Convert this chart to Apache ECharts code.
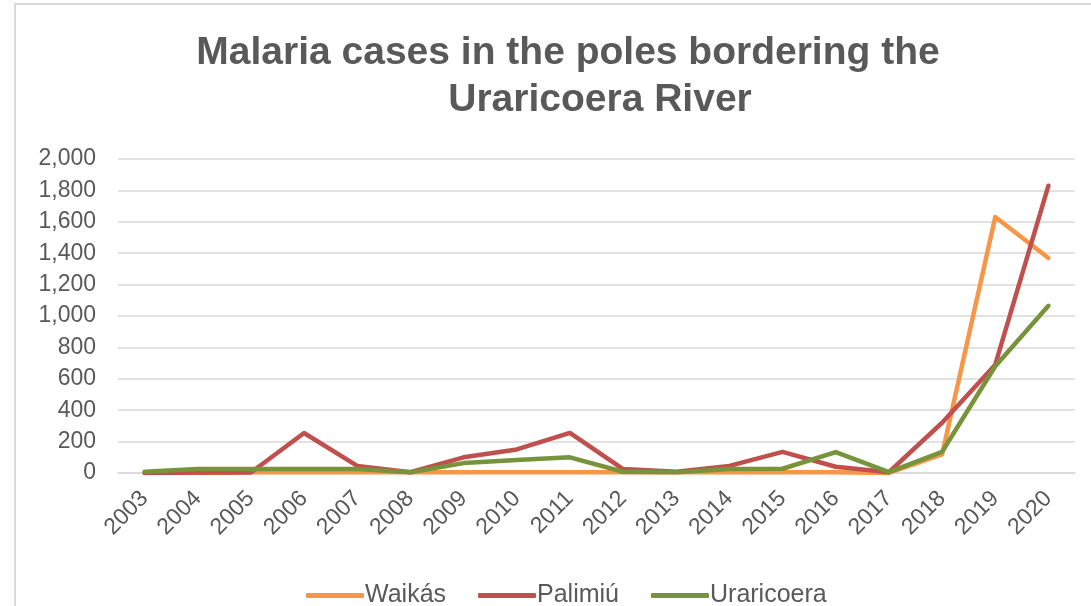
<!DOCTYPE html>
<html>
<head>
<meta charset="utf-8">
<script src="https://cdn.jsdelivr.net/npm/echarts@6/dist/echarts.min.js"></script>
<style>
html,body{margin:0;padding:0;background:#fff;}
#chart{width:1091px;height:606px;}
</style>
</head>
<body>
<div id="chart"></div>
<script>
var years = ['2003','2004','2005','2006','2007','2008','2009','2010','2011','2012','2013','2014','2015','2016','2017','2018','2019','2020'];
var waikas = [0, 0, 5, 5, 5, 5, 5, 5, 5, 5, 5, 5, 5, 5, 0, 118, 1630, 1370];
var palimiu = [0, 3, 3, 255, 45, 5, 100, 150, 255, 25, 8, 45, 135, 40, 5, 320, 690, 1830];
var uraricoera = [8, 25, 25, 25, 25, 5, 63, 83, 100, 8, 5, 25, 27, 133, 5, 135, 680, 1065];
var seriesNames = ['Waikás', 'Palimiú', 'Uraricoera'];
var titleLine1 = 'Malaria cases in the poles bordering the';
var titleLine2 = 'Uraricoera River';

var chart = echarts.init(document.getElementById('chart'));
var font = '"Liberation Sans", Arial, sans-serif';
function mk(name, data, color) {
  return {
    name: name, type: 'line', data: data, symbol: 'none',
    lineStyle: { color: color, width: 4.5, cap: 'round', join: 'round' },
    itemStyle: { color: color }
  };
}
chart.setOption({
  animation: false,
  title: [
    { text: titleLine1, left: 563, top: 29, textAlign: 'center',
      textStyle: { fontFamily: font, fontSize: 39, fontWeight: 'bold', color: '#595959' } },
    { text: titleLine2, left: 595, top: 76, textAlign: 'center',
      textStyle: { fontFamily: font, fontSize: 39, fontWeight: 'bold', color: '#595959' } }
  ],
  graphic: [{
    type: 'rect', shape: { x: 15, y: 4, width: 1200, height: 800 },
    style: { fill: null, stroke: '#d9d9d9', lineWidth: 2 }, silent: true
  }],
  legend: {
    top: 578, left: 301,
    icon: 'roundRect', itemWidth: 58, itemHeight: 5, itemGap: 32,
    textStyle: { fontFamily: font, fontSize: 25, color: '#595959', padding: [0, 0, 0, -4] },
    data: seriesNames
  },
  grid: { left: 118, right: 16, top: 159, bottom: 133, containLabel: false },
  xAxis: {
    type: 'category', data: years, boundaryGap: true,
    axisLine: { lineStyle: { color: '#d9d9d9', width: 1.5 } },
    axisTick: { show: false },
    axisLabel: { rotate: 45, fontFamily: font, fontSize: 23, color: '#595959', margin: 22, interval: 0 }
  },
  yAxis: {
    type: 'value', min: 0, max: 2000, interval: 200,
    axisLine: { show: false }, axisTick: { show: false },
    splitLine: { lineStyle: { color: '#d9d9d9', width: 1.5 } },
    axisLabel: { fontFamily: font, fontSize: 23, color: '#595959', margin: 22,
      formatter: function (v) { return v.toLocaleString('en-US'); } }
  },
  series: [
    mk(seriesNames[0], waikas, '#F79646'),
    mk(seriesNames[1], palimiu, '#C0504D'),
    mk(seriesNames[2], uraricoera, '#77933C')
  ]
});
</script>
</body>
</html>
